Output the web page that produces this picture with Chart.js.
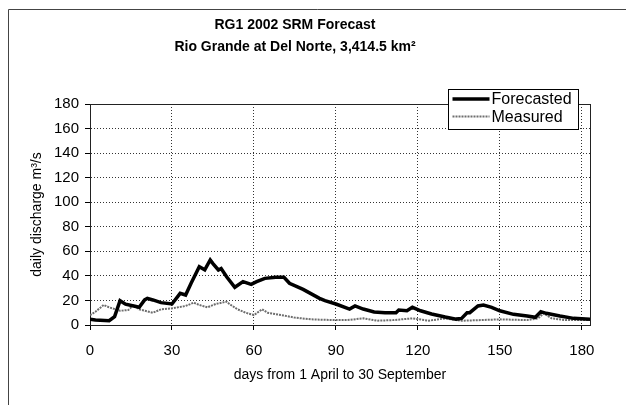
<!DOCTYPE html>
<html>
<head>
<meta charset="utf-8">
<script src="https://cdn.jsdelivr.net/npm/chart.js@4.4.1/dist/chart.umd.min.js"></script>
<style>
    html, body { margin: 0; padding: 0; background: #fff; }
</style>
</head>
<body>
<canvas id="graficoSRM" width="626" height="405"></canvas>
<script>
// days from 1 April
const forecastDays = [0, 2, 7, 9, 11, 13, 16, 18, 20, 21, 23, 26, 30, 33, 35, 37, 40, 42, 44, 45,
    47, 48, 50, 53, 56, 59, 61, 64, 68, 71, 73, 78, 84, 86, 90, 95, 97, 100, 104, 108,
    112, 113, 116, 118, 121, 125, 130, 134, 136, 138, 139, 142, 144, 147, 150, 155, 160, 163, 165, 167,
    172, 177, 183];
const forecastValues = [4.6, 4, 3.5, 6.8, 19.8, 17, 15.5, 14.4, 20.4, 21.7, 20.4, 18.2, 17.1, 25.8, 24.4, 34, 47.5, 45, 53, 50,
    44.8, 46, 39.3, 30.7, 35.3, 33.1, 35.3, 38, 38.8, 38.8, 34, 29, 21.7, 19.8, 17.1, 13, 15.5, 13, 10.6, 10,
    10, 12.2, 11.6, 14.4, 11.6, 9, 6.5, 4.8, 5.4, 10, 10, 15.5, 16.3, 14.4, 11.6, 8.7, 7.3, 6.3, 10.8, 9.5,
    7.3, 5.4, 4.6];

const measuredDays = [0, 2, 5, 7, 11, 14, 16, 18, 23, 26, 30, 35, 38, 40, 43, 46, 50, 51, 54, 57,
    60, 63, 65, 70, 75, 81, 89, 94, 100, 105, 111, 118, 124, 130, 134, 136, 143, 150, 160, 164,
    166, 169, 174, 183];
const measuredValues = [8, 10.8, 16.3, 14.4, 11.6, 12.2, 16.3, 12.8, 10, 12.8, 13.6, 15.5, 18.2, 16.3, 14.4, 17.1, 19, 17.1, 12.8, 10,
    8.1, 12.8, 10, 8.1, 6, 4.6, 4, 4, 5.4, 3.5, 4, 5.4, 3.5, 5.4, 4, 3.5, 4, 4.6, 4, 5.4,
    9.5, 5.4, 4, 4];

const xTickValues = [0, 30, 60, 90, 120, 150, 180];
const yTickValues = [0, 20, 40, 60, 80, 100, 120, 140, 160, 180];

const tituloGrafico = ["RG1 2002 SRM Forecast", "Rio Grande at Del Norte, 3,414.5 km²"];
const fonte = '"Liberation Sans", Arial, sans-serif';

const pares = (xs, ys) => xs.map((x, i) => ({ x: x, y: ys[i] }));

// borda externa, moldura da área do gráfico e legenda em caixa
const moldura = {
    id: 'moldura',
    beforeDraw(chart) {
        const ctx = chart.ctx;
        ctx.save();
        ctx.strokeStyle = '#444';
        ctx.lineWidth = 1;
        ctx.beginPath();
        ctx.moveTo(8.5, 405);
        ctx.lineTo(8.5, 9.5);
        ctx.lineTo(626, 9.5);
        ctx.stroke();
        ctx.restore();
    },
    beforeDatasetsDraw(chart) {
        const { ctx, chartArea: a } = chart;
        ctx.save();
        ctx.strokeStyle = '#222';
        ctx.lineWidth = 1;
        ctx.strokeRect(Math.round(a.left) + 0.5, Math.round(a.top) + 0.5,
            Math.round(a.right - a.left), Math.round(a.bottom - a.top));
        ctx.restore();
    },
    afterDraw(chart) {
        const ctx = chart.ctx;
        const x = 448.5, y = 89.5, w = 130, h = 40;
        ctx.save();
        ctx.fillStyle = '#fff';
        ctx.fillRect(x, y, w, h);
        ctx.strokeStyle = '#000';
        ctx.lineWidth = 1;
        ctx.strokeRect(x, y, w, h);
        chart.data.datasets.forEach((ds, i) => {
            const ly = y + 9.5 + i * 17.5;
            ctx.beginPath();
            ctx.setLineDash(ds.borderDash || []);
            ctx.lineWidth = ds.borderWidth;
            ctx.strokeStyle = ds.borderColor;
            ctx.moveTo(x + 4, ly);
            ctx.lineTo(x + 41, ly);
            ctx.stroke();
            ctx.setLineDash([]);
            ctx.fillStyle = '#000';
            ctx.font = '16px ' + fonte;
            ctx.textBaseline = 'middle';
            ctx.fillText(ds.label, x + 43, ly + 1);
        });
        ctx.restore();
    }
};

const ctxSRM = document.getElementById("graficoSRM").getContext("2d");

new Chart(ctxSRM, {
    type: "line",
    data: {
        datasets: [{
            label: "Forecasted",
            data: pares(forecastDays, forecastValues),
            borderColor: "#000",
            borderWidth: 3.5,
            pointRadius: 0,
            tension: 0
        }, {
            label: "Measured",
            data: pares(measuredDays, measuredValues),
            borderColor: "#6e6e6e",
            borderWidth: 2,
            borderDash: [2, 1],
            pointRadius: 0,
            tension: 0
        }]
    },
    options: {
        responsive: false,
        animation: false,
        layout: { padding: { top: 0, right: 36, bottom: 0, left: 0 } },
        plugins: {
            legend: { display: false },
            tooltip: { enabled: false },
            title: {
                display: true,
                text: tituloGrafico,
                color: '#000',
                font: { family: fonte, size: 14, weight: 'bold', lineHeight: 1.536 },
                padding: { top: 14.75, bottom: 46.25 }
            }
        },
        scales: {
            x: {
                type: 'linear',
                min: 0,
                max: 183,
                afterBuildTicks: s => { s.ticks = xTickValues.map(v => ({ value: v })); },
                afterFit: s => { s.height = 80; },
                grid: { color: '#333', tickColor: '#000', tickLength: 5 },
                border: { display: true, color: '#000', dash: [1, 2] },
                ticks: { color: '#000', padding: 12, maxRotation: 0, font: { family: fonte, size: 15 } },
                title: {
                    display: true,
                    text: 'days from 1 April to 30 September',
                    color: '#000',
                    font: { family: fonte, size: 14 },
                    padding: { bottom: 21 }
                }
            },
            y: {
                min: 0,
                max: 180,
                afterBuildTicks: s => { s.ticks = yTickValues.map(v => ({ value: v })); },
                afterFit: s => { s.width = 90; },
                grid: { color: '#333', tickColor: '#000', tickLength: 5 },
                border: { display: true, color: '#000', dash: [1, 2] },
                ticks: { color: '#000', padding: 6, font: { family: fonte, size: 15 } },
                title: {
                    display: true,
                    text: 'daily discharge m³/s',
                    color: '#000',
                    font: { family: fonte, size: 14 },
                    padding: { top: 29 }
                }
            }
        }
    },
    plugins: [moldura]
});
</script>
</body>
</html>
